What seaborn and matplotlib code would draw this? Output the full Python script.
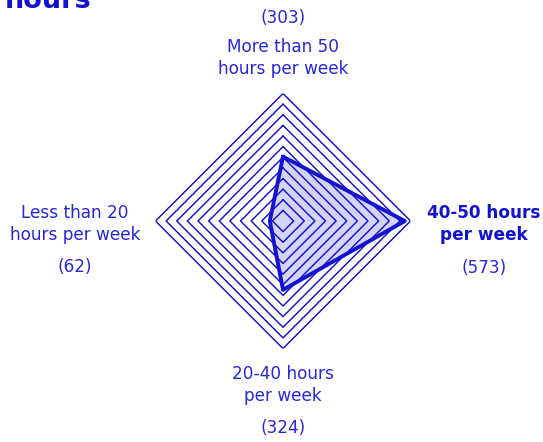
import numpy as np
import matplotlib
matplotlib.use("Agg")
import matplotlib.pyplot as plt
import seaborn as sns

# ---- data ----
categories = ["More than 50\nhours per week", "40-50 hours\nper week",
              "20-40 hours\nper week", "Less than 20\nhours per week"]
counts = [303, 573, 324, 62]
grid_levels = list(range(50, 601, 50))
title_text = "hours"
highlight = "40-50 hours\nper week"

sns.set_theme(style="white")
plt.rcParams['font.family'] = ['DejaVu Sans']

BLUE = "#1212d0"
TEXT = "#2626dc"
FILL = "#d4d4f6"

W, H = 543, 442
fig = plt.figure(figsize=(W / 100, H / 100), dpi=100)
cx, cy, R = 283, 221, 127.5
ax = fig.add_axes([(cx - R) / W, (H - cy - R) / H, 2 * R / W, 2 * R / H],
                  projection="polar")
ax.set_theta_offset(np.pi / 2)
ax.set_theta_direction(-1)

n = len(categories)
theta = np.linspace(0, 2 * np.pi, n, endpoint=False)
theta_c = np.concatenate([theta, theta[:1]])

vals = np.array(counts + counts[:1], dtype=float)
ax.fill(theta_c, vals, color=FILL, zorder=1, lw=0)

for lvl in grid_levels:
    ax.plot(theta_c, [lvl] * (n + 1), color=BLUE, lw=1.05, zorder=2)

sns.lineplot(x=theta_c, y=vals, sort=False, ax=ax, color=BLUE, lw=2.8,
             zorder=3, estimator=None)

ax.set_ylim(0, 600)
ax.set_xticks([])
ax.set_yticks([])
ax.grid(False)
ax.spines['polar'].set_visible(False)
ax.set_facecolor("none")

# label placement (pixel positions)
label_pos = [((283, 58), (283, 18)),
             ((484, 224), (484, 268)),
             ((283, 385), (283, 428)),
             ((75, 224), (75, 267))]
fs = 12.2
for cat, cnt, (lp, cp) in zip(categories, counts, label_pos):
    bold = cat == highlight
    fig.text(lp[0] / W, 1 - lp[1] / H, cat, ha="center", va="center",
             fontsize=fs, color=BLUE if bold else TEXT,
             fontweight="bold" if bold else "normal", linespacing=1.3)
    fig.text(cp[0] / W, 1 - cp[1] / H, f"({cnt})", ha="center", va="center",
             fontsize=fs, color=TEXT)

fig.text(5 / W, 1 - 8 / H, title_text, ha="left", va="baseline",
         fontsize=19.5, fontweight="bold", color=BLUE)

fig.savefig("out.png", dpi=100)
